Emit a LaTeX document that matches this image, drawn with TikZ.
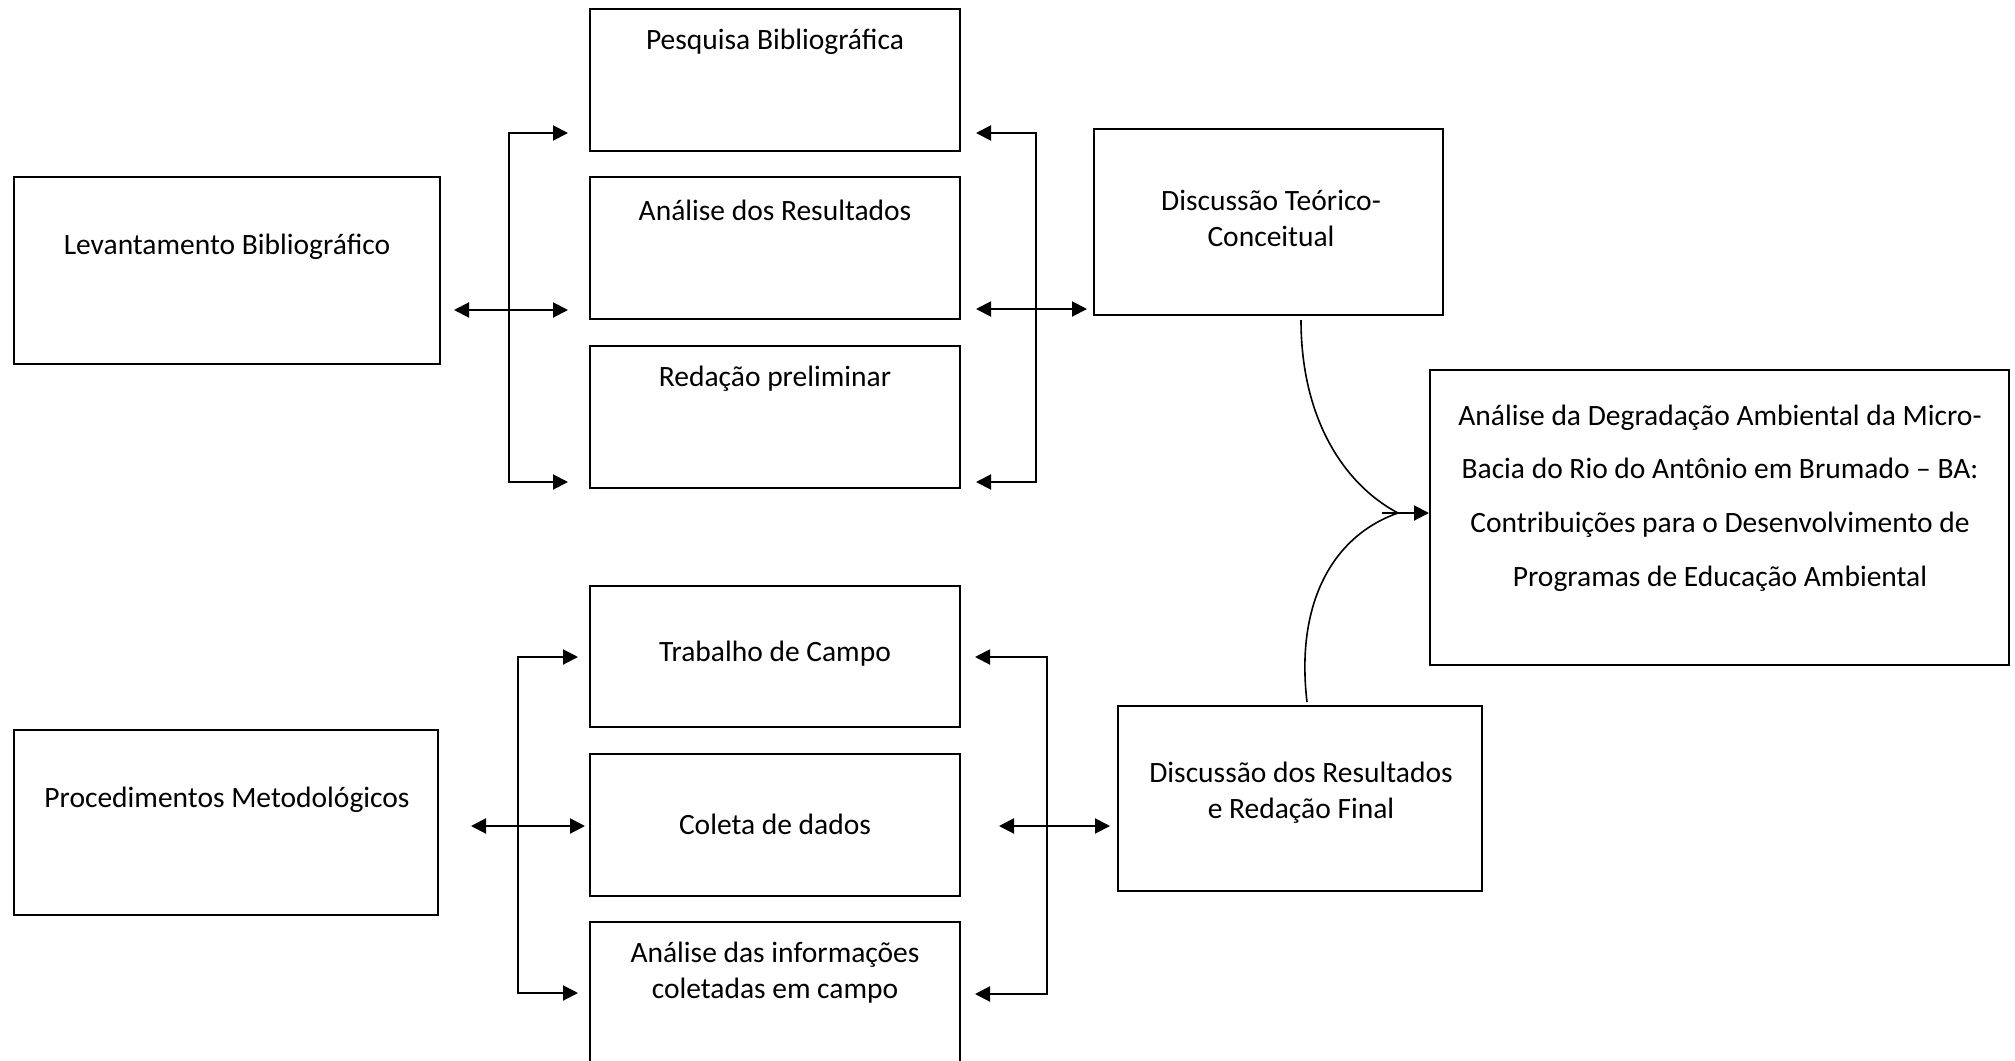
\documentclass[tikz,border=0pt]{standalone}
\usepackage{fontspec}
\setmainfont{Carlito}
\usetikzlibrary{arrows.meta,fit}
\begin{document}
\begin{tikzpicture}[x=0.5pt,y=-0.5pt,
  box/.style={draw, line width=1pt, inner sep=0pt, rectangle},
  lbl/.style={font=\fontsize{14.75}{18}\selectfont, align=center, inner sep=0pt},
  arr/.style={line width=1pt, -{Triangle[length=7.5pt,width=7.5pt]}},
  darr/.style={line width=1pt, {Triangle[length=7.5pt,width=7.5pt]}-{Triangle[length=7.5pt,width=7.5pt]}},
  curve/.style={line width=0.8pt}
  ]
\useasboundingbox (0,0) rectangle (2015,1061);
\clip (0,0) rectangle (2015,1061);
% boxes
\node[box, fit={(590,9) (960,151)}] (pb) {};
\node[box, fit={(590,177) (960,319)}] (ar) {};
\node[box, fit={(590,346) (960,488)}] (rp) {};
\node[box, fit={(14,177) (440,364)}] (lev) {};
\node[box, fit={(1094,129) (1443,315)}] (dtc) {};
\node[box, fit={(1430,370) (2009,665)}] (fin) {};
\node[box, fit={(590,586) (960,727)}] (tc) {};
\node[box, fit={(590,754) (960,896)}] (cd) {};
\node[box, fit={(590,922) (960,1064)}] (ai) {};
\node[box, fit={(14,730) (438,915)}] (proc) {};
\node[box, fit={(1118,706) (1482,891)}] (dr) {};
% texts
\node[lbl] (tpb) at (775,42) {Pesquisa Bibliográfica};
\node[lbl] (tar) at (775,210) {Análise dos Resultados};
\node[lbl] (trp) at (775,379) {Redação preliminar};
\node[lbl] (tlev) at (227,247) {Levantamento Bibliográfico};
\node[lbl] (tdtc) at (1271,218) {Discussão Teórico-\\Conceitual};
\node[lbl, font=\fontsize{14.75}{26.8}\selectfont] (tfin) at (1720,498) {Análise da Degradação Ambiental da Micro-\\Bacia do Rio do Antônio em Brumado – BA:\\Contribuições para o Desenvolvimento de\\Programas de Educação Ambiental};
\node[lbl] (ttc) at (775,654) {Trabalho de Campo};
\node[lbl] (tcd) at (775,824) {Coleta de dados};
\node[lbl] (tai) at (775,973) {Análise das informações\\coletadas em campo};
\node[lbl] (tproc) at (227,800) {Procedimentos Metodológicos};
\node[lbl] (tdr) at (1301,793) {Discussão dos Resultados\\e Redação Final};
% top-left bracket
\coordinate (a1) at (568,133);
\coordinate (a3) at (568,482);
\coordinate (k1) at (509,482);
\coordinate (m1) at (454,310);
\coordinate (m2) at (568,310);
\draw[darr] (a1) -| (k1) -- (a3);
\draw[darr] (m1) -- (m2);
% top-right bracket
\coordinate (b1) at (976,133);
\coordinate (b3) at (976,482);
\coordinate (k2) at (1036,482);
\coordinate (n1) at (976,309);
\coordinate (n2) at (1087,309);
\draw[darr] (b1) -| (k2) -- (b3);
\draw[darr] (n1) -- (n2);
% bottom-left bracket
\coordinate (c1) at (578,657);
\coordinate (c3) at (578,993);
\coordinate (k3) at (518,993);
\coordinate (p1) at (471,826);
\coordinate (p2) at (585,826);
\draw[darr] (c1) -| (k3) -- (c3);
\draw[darr] (p1) -- (p2);
% bottom-right bracket
\coordinate (d1) at (975,657);
\coordinate (d3) at (975,994);
\coordinate (k4) at (1047,994);
\coordinate (q1) at (999,826);
\coordinate (q2) at (1110,826);
\draw[darr] (d1) -| (k4) -- (d3);
\draw[darr] (q1) -- (q2);
% curves to final box
\coordinate (s1) at (1301,320);
\coordinate (s2) at (1307,702);
\coordinate (j) at (1398,513);
\coordinate (j0) at (1382,513);
\draw[curve] (s1) .. controls (1301,420) and (1345,485) .. (j);
\draw[curve] (s2) .. controls (1295,600) and (1335,535) .. (j);
\draw[arr] (j0) -- (fin.west |- j);
\end{tikzpicture}
\end{document}
